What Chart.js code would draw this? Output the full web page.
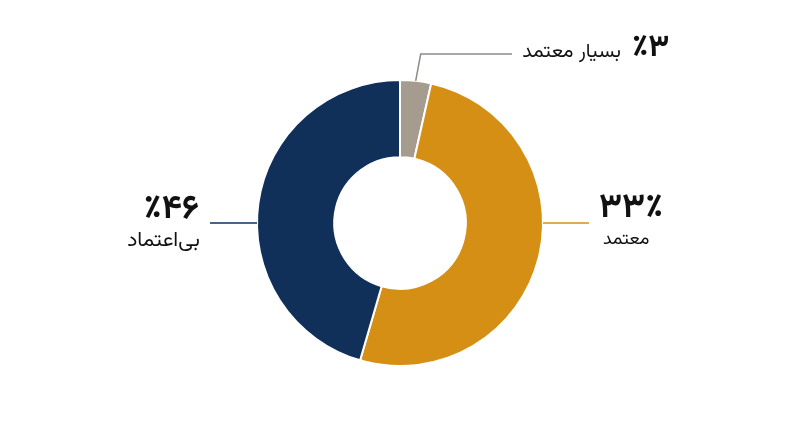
<!DOCTYPE html>
<html lang="fa">
<head>
<meta charset="utf-8">
<script src="https://cdn.jsdelivr.net/npm/chart.js@4"></script>
<style>
  html, body { margin: 0; padding: 0; background: #fff; }
  #wrap { width: 800px; height: 447px; }
</style>
</head>
<body>
<div id="wrap"><canvas id="myChart"></canvas></div>
<script>
// data
const categories = ['بسیار معتمد', 'معتمد', 'بی\u200cاعتماد'];
const values = [3.5, 51, 45.5];
const percentLabels = ['٪۳', '۳۳٪', '٪۴۶'];
const colors = ['#a59b8f', '#d58f14', '#10305a'];
const lineColors = ['#8f8b86', '#d58f14', '#10305a'];

const FONT = "Vazirmatn, 'DejaVu Sans', sans-serif";

// labels + leader lines
const calloutPlugin = {
  id: 'callouts',
  afterDraw(chart) {
    const ctx = chart.ctx;
    const arcs = chart.getDatasetMeta(0).data;
    const cx = arcs[0].x, cy = arcs[0].y;
    const R = arcs[0].outerRadius;
    ctx.save();
    ctx.direction = 'ltr';
    ctx.lineWidth = 1.5;
    ctx.fillStyle = '#111';

    // بسیار معتمد (top)
    const a0 = arcs[0];
    const mid = (a0.startAngle + a0.endAngle) / 2;
    const px = cx + Math.cos(mid) * R, py = cy + Math.sin(mid) * R;
    ctx.strokeStyle = lineColors[0];
    ctx.beginPath();
    ctx.moveTo(px, py);
    ctx.lineTo(px + 5, cy - 169);
    ctx.lineTo(cx + 112, cy - 169);
    ctx.stroke();
    ctx.textAlign = 'right';
    ctx.font = '20px ' + FONT;
    ctx.fillText(categories[0], cx + 221, cy - 166);
    ctx.textAlign = 'left';
    ctx.font = 'bold 31px ' + FONT;
    ctx.fillText(percentLabels[0], cx + 232, cy - 167);

    // معتمد (right)
    ctx.strokeStyle = lineColors[1];
    ctx.beginPath();
    ctx.moveTo(cx + R, cy);
    ctx.lineTo(cx + 189, cy);
    ctx.stroke();
    ctx.textAlign = 'left';
    ctx.font = 'bold 34px ' + FONT;
    ctx.fillText(percentLabels[1], cx + 199, cy - 6);
    ctx.font = '18px ' + FONT;
    ctx.fillText(categories[1], cx + 203, cy + 21);

    // بی‌اعتماد (left)
    ctx.strokeStyle = lineColors[2];
    ctx.beginPath();
    ctx.moveTo(cx - R, cy);
    ctx.lineTo(cx - 190, cy);
    ctx.stroke();
    ctx.textAlign = 'right';
    ctx.font = 'bold 34px ' + FONT;
    ctx.fillText(percentLabels[2], cx - 201, cy - 5);
    ctx.font = '21px ' + FONT;
    ctx.fillText(categories[2], cx - 200, cy + 23);

    ctx.restore();
  }
};

const ctx = document.getElementById('myChart').getContext('2d');
const myChart = new Chart(ctx, {
  type: 'doughnut',
  data: {
    labels: categories,
    datasets: [{
      data: values,
      backgroundColor: colors,
      borderColor: '#ffffff',
      borderWidth: 2
    }]
  },
  options: {
    responsive: true,
    maintainAspectRatio: false,
    animation: false,
    cutout: '46%',
    layout: {
      padding: { top: 79, bottom: 80 }
    },
    plugins: {
      legend: { display: false },
      tooltip: { enabled: false }
    }
  },
  plugins: [calloutPlugin]
});
</script>
</body>
</html>
